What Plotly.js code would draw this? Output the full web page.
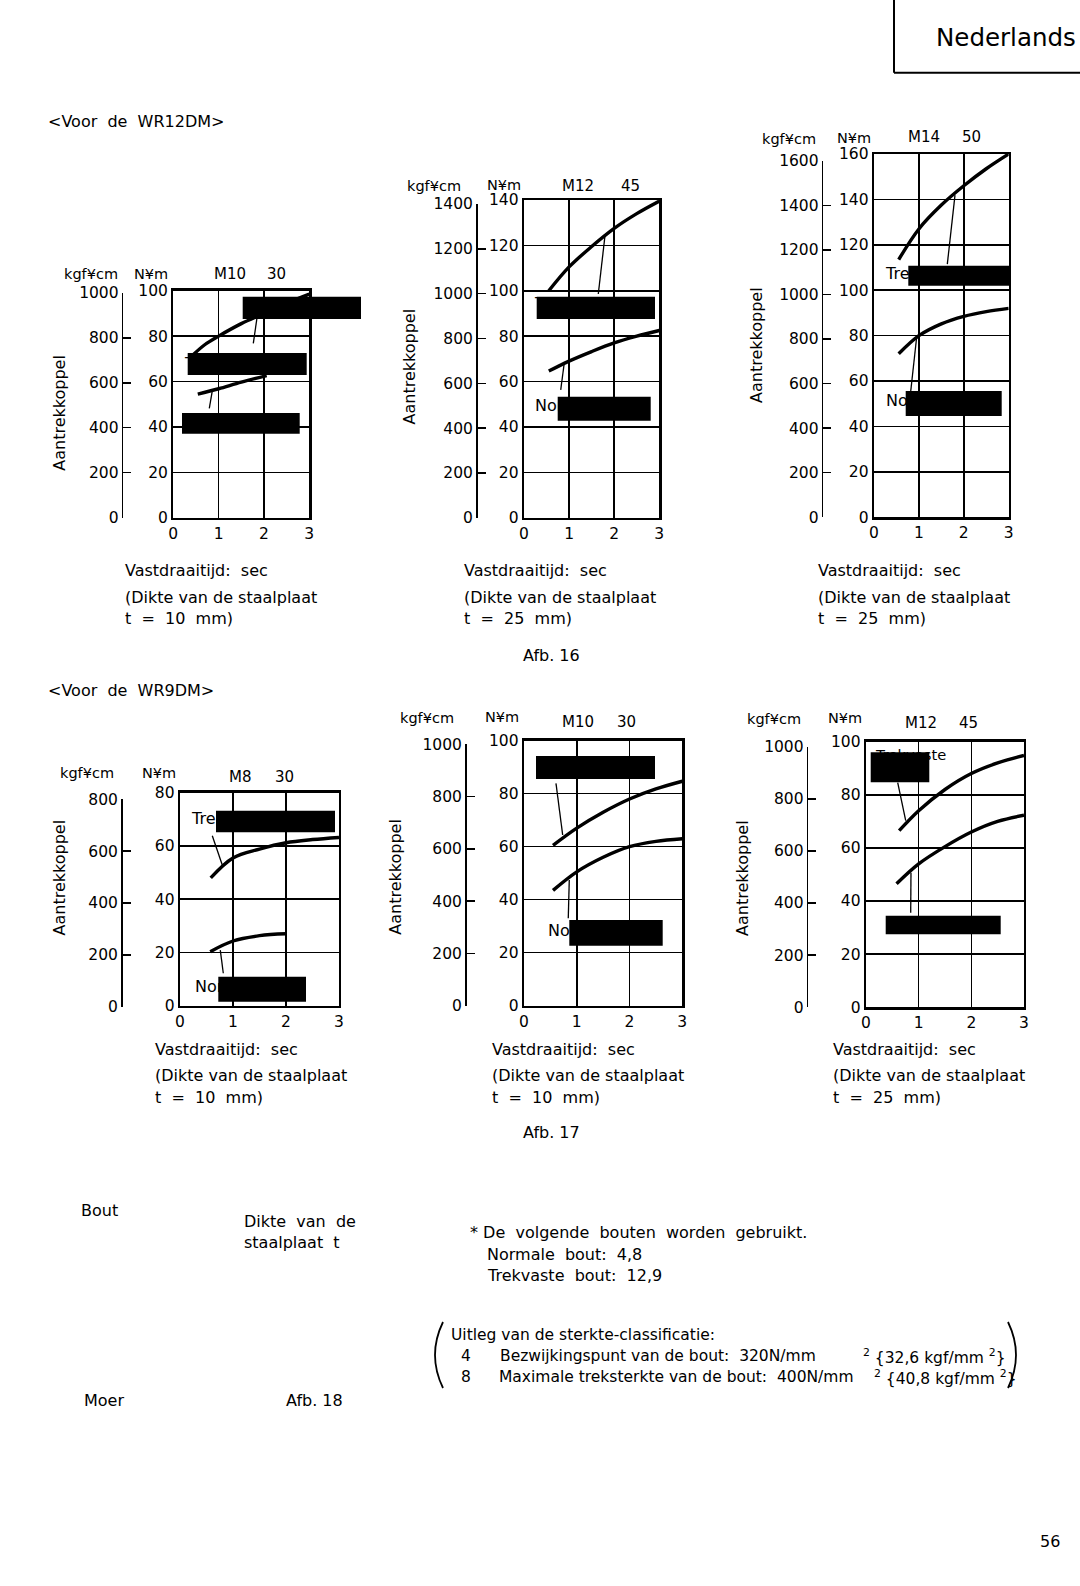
<!DOCTYPE html>
<html><head><meta charset="utf-8">
<script src="https://cdn.plot.ly/plotly-3.0.1.min.js"></script>
<style>html,body{margin:0;padding:0;background:#fff}#chart{width:1080px;height:1586px}</style>
</head><body><div id="chart"></div>
<script>
// ---------------- data ----------------
const boltSize   = ['M10','M12','M14','M8','M10','M12'];
const boltLength = ['30','45','50','30','30','45'];
const plateT     = ['10','25','25','10','10','25'];
const torqueNmMax  = [100,140,160,80,100,100];
const torqueKgfMax = [1000,1400,1600,800,1000,1000];
const timeTicks = [0,1,2,3];

const c1HighX=[0.45,0.7,1.0,1.5,2.0,2.5,3.0], c1HighY=[72,76.3,80,85.5,90,94.5,98.5];
const c1NormX=[0.54,1.0,1.5,2.06],             c1NormY=[54.4,56.8,59.7,62.6];
const c2HighX=[0.55,1.0,1.5,2.0,2.5,3.0],      c2HighY=[100,110.5,119.5,127.5,134,139.5];
const c2NormX=[0.55,1.0,1.5,2.0,2.5,3.0],      c2NormY=[64.6,69,73.2,77,80,82.5];
const c3HighX=[0.55,1,1.5,2,2.5,3],            c3HighY=[113.5,127,137.5,146,153.5,160];
const c3NormX=[0.55,1,1.5,2,2.5,3],            c3NormY=[72,80,85.2,88.5,90.6,92];
const c4HighX=[0.58,1,1.5,2,2.5,3],            c4HighY=[48,55.5,58.8,61.2,62.4,63.2];
const c4NormX=[0.57,1,1.5,2],                  c4NormY=[20.3,24.3,26.3,27];
const c5HighX=[0.55,1,1.5,2,2.5,3],            c5HighY=[60.5,67,73,78,81.8,84.7];
const c5NormX=[0.55,1,1.5,2,2.5,3],            c5NormY=[43.5,50.5,56,60,62,63];
const c6HighX=[0.63,1,1.5,2,2.5,3],            c6HighY=[66.5,74,82,88,92,94.8];
const c6NormX=[0.58,1,1.5,2,2.5,3],            c6NormY=[46.5,54,60.5,66,70,72.3];

const highX=[c1HighX,c2HighX,c3HighX,c4HighX,c5HighX,c6HighX];
const highY=[c1HighY,c2HighY,c3HighY,c4HighY,c5HighY,c6HighY];
const normX=[c1NormX,c2NormX,c3NormX,c4NormX,c5NormX,c6NormX];
const normY=[c1NormY,c2NormY,c3NormY,c4NormY,c5NormY,c6NormY];

// ---------------- layout helpers ----------------
const W = 1080, H = 1586;
const X = p => p / W, Y = p => 1 - p / H;
const FONT = 'DejaVu Sans, sans-serif';

// pixel geometry of each panel
const G = [
 {L:173.3,R:309.3,T:290.7,B:517.7, oPos:121.7, oT:293,   oB:517.5,
  kgf:[61.7,274], nm:[131.7,274], m:[211.7,274.3], len:[265,274.3], aan:[59.2,412.5], cap:[123.3,570.3,597.6,618.9]},
 {L:524,  R:659.3,T:200,  B:517.7, oPos:476,   oT:204,   oB:517.7,
  kgf:[405,186], nm:[485,185], m:[560,186], len:[619.3,186], aan:[409,366.5], cap:[462.1,570.3,597.6,618.9]},
 {L:874,  R:1008.7,T:154, B:517.3, oPos:821.7, oT:160.7, oB:517.3,
  kgf:[760,139.5], nm:[835,138.5], m:[906,137.5], len:[960,137.5], aan:[756,345], cap:[816.1,570.3,597.6,618.9]},
 {L:180,  R:339,  T:792.7,B:1005.7,oPos:121,   oT:799.3, oB:1006.7,
  kgf:[58.3,773], nm:[140,773], m:[227.3,776.5], len:[272.7,776.5], aan:[59,877.5], cap:[152.7,1049.6,1075.9,1097.2]},
 {L:524,  R:682.3,T:740.7,B:1005.7,oPos:465,   oT:744.3, oB:1005.7,
  kgf:[398.3,718], nm:[483.3,716.5], m:[560,722], len:[615,722], aan:[396,876.7], cap:[490.4,1049.6,1075.9,1097.2]},
 {L:866,  R:1024, T:741.7,B:1007.3,oPos:806.7, oT:746.7, oB:1007.3,
  kgf:[745,719], nm:[826,718.5], m:[903.3,723], len:[957.3,723], aan:[743,878], cap:[831.2,1049.6,1075.9,1097.2]}
];

function txt(s, px, py, size, extra) {
  return Object.assign({text:s, x:X(px), y:Y(py), xref:'paper', yref:'paper',
    xanchor:'left', yanchor:'middle', showarrow:false,
    font:{family:FONT, size:size||16, color:'#000'}}, extra||{});
}

const traces = [];
const layout = {
  width:W, height:H, margin:{l:0,r:0,t:0,b:0},
  paper_bgcolor:'#fff', plot_bgcolor:'rgba(0,0,0,0)',
  showlegend:false, shapes:[], annotations:[]
};

G.forEach((g, i) => {
  const n = i + 1, xa = 'x' + (n === 1 ? '' : n), ya = 'y' + (n === 1 ? '' : n);
  const oa = 'y' + (n + 6);
  const lineStyle = {color:'#000', width:3.4, shape:'spline', smoothing:1};
  traces.push({type:'scatter', mode:'lines', x:highX[i], y:highY[i], xaxis:xa, yaxis:ya, line:lineStyle, hoverinfo:'skip'});
  traces.push({type:'scatter', mode:'lines', x:normX[i], y:normY[i], xaxis:xa, yaxis:ya, line:lineStyle, hoverinfo:'skip'});
  traces.push({type:'scatter', mode:'lines', x:[null], y:[null], xaxis:xa, yaxis:oa, hoverinfo:'skip'});

  const common = {showline:true, linecolor:'#000', linewidth:2.3, mirror:true,
    showgrid:true, gridcolor:'#000', gridwidth:1.5, zeroline:false, ticks:'',
    tickfont:{family:FONT, size:15.5, color:'#000'}, fixedrange:true};
  layout['xaxis' + (n === 1 ? '' : n)] = Object.assign({}, common, {
    domain:[X(g.L), X(g.R)], anchor:ya, range:[0,3], tickvals:timeTicks, ticktext:timeTicks.map(String)});
  layout['yaxis' + (n === 1 ? '' : n)] = Object.assign({}, common, {
    domain:[Y(g.B), Y(g.T)], anchor:xa, range:[0, torqueNmMax[i]], dtick:20, tick0:0});
  layout['yaxis' + (n + 6)] = {domain:[Y(g.oB), Y(g.oT)], anchor:'free', position:X(g.oPos), side:'left',
    range:[0, torqueKgfMax[i]], dtick:200, tick0:0, showline:true, linecolor:'#000', linewidth:1.5,
    ticks:'inside', ticklen:8, tickwidth:1.5, tickcolor:'#000', showgrid:false, zeroline:false,
    tickfont:{family:FONT, size:15.5, color:'#000'}, fixedrange:true};

  const A = layout.annotations;
  A.push(txt('kgf¥cm', g.kgf[0], g.kgf[1], 14.5));
  A.push(txt('N¥m', g.nm[0], g.nm[1], 14.5));
  A.push(txt(boltSize[i], g.m[0], g.m[1], 15));
  A.push(txt(boltLength[i], g.len[0], g.len[1], 15));
  A.push(txt('Aantrekkoppel', g.aan[0], g.aan[1], 16, {xanchor:'center', textangle:-90}));
  A.push(txt('Vastdraaitijd:  sec', g.cap[0], g.cap[1]));
  A.push(txt('(Dikte van de staalplaat', g.cap[0], g.cap[2]));
  A.push(txt('t  =  ' + plateT[i] + '  mm)', g.cap[0], g.cap[3]));
});

// partially covered labels
const A = layout.annotations;
[['Tre',182,363],['Tre',532,304],['Nor',533.3,405],['Tre',882.7,273.3],['Nor',884,400.3],
 ['Tre',189,818.3],['Nor',193.3,986.7],['Tre',534,764],['Nor',545.7,930]].forEach(a => A.push(txt(a[0], a[1], a[2], 16)));
A.push(txt('Trekvaste', 873.3, 754, 14.7));

// page texts
A.push(txt('Nederlands', 934, 37.5, 24.5));
A.push(txt('<Voor  de  WR12DM>', 46, 121.4));
A.push(txt('Afb. 16', 521, 655));
A.push(txt('<Voor  de  WR9DM>', 46, 690.6));
A.push(txt('Afb. 17', 520.8, 1132.5));
A.push(txt('Bout', 79, 1210.5));
A.push(txt('Dikte  van  de', 241.7, 1221.5));
A.push(txt('staalplaat  t', 241.7, 1242.7));
A.push(txt('* De  volgende  bouten  worden  gebruikt.', 468.2, 1232.7));
A.push(txt('Normale  bout:  4,8', 485.3, 1254));
A.push(txt('Trekvaste  bout:  12,9', 485.3, 1275));
A.push(txt('Uitleg van de sterkte-classificatie:', 449, 1335, 15.5));
A.push(txt('4', 459, 1356, 15.5));
A.push(txt('Bezwijkingspunt van de bout:  320N/mm', 497.5, 1356, 15.5));
A.push(txt('<sup>2</sup> {32,6 kgf/mm <sup>2</sup>}', 860.5, 1356, 15.5));
A.push(txt('8', 459, 1377, 15.5));
A.push(txt('Maximale treksterkte van de bout:  400N/mm', 496.5, 1377, 15.5));
A.push(txt('<sup>2</sup> {40,8 kgf/mm <sup>2</sup>}', 871.7, 1377, 15.5));
A.push(txt('Moer', 82, 1400.5));
A.push(txt('Afb. 18', 284, 1400.5));
A.push(txt('56', 1037.5, 1541));

// shapes: redaction boxes (pixel rectangles)
const S = layout.shapes;
[[242.7,296.7,361,319],[187.7,353,306.7,375],[182,413,299.7,433.7],
 [536.7,296.7,655,319],[557.7,396.7,650.7,420.7],
 [908.3,265.7,1009.3,285.7],[905.7,391,1001.7,416],
 [216,810.7,335,832.3],[218.3,976.7,306,1001.7],
 [536,756,655,779],[569.3,920,662.7,945.7],
 [870.7,752.3,929.3,782.3],[885.7,915.7,1000.7,934.3]].forEach(b => S.push({
  type:'rect', xref:'paper', yref:'paper', x0:X(b[0]), x1:X(b[2]), y0:Y(b[3]), y1:Y(b[1]),
  fillcolor:'#000', line:{width:0}, layer:'above'}));

// leader lines (axis coordinates of each panel)
const leaders = [
 [1,1.853,89.0,1.765,76.8],[1,0.86,55.9,0.794,48.2],
 [2,1.796,124.3,1.647,98.6],[2,0.887,67.3,0.814,56.3],
 [3,1.804,141.9,1.633,111.5],[3,0.951,79.5,0.817,55.3],
 [4,0.609,63.85,0.798,52.85],[4,0.76,20.9,0.817,12.2],
 [5,0.606,83.9,0.733,64.4],[5,0.858,47.4,0.839,33.0],
 [6,0.602,84.6,0.754,70.3],[6,0.854,50.7,0.849,35.6]];
leaders.forEach(l => S.push({type:'line', xref:'x'+(l[0]===1?'':l[0]), yref:'y'+(l[0]===1?'':l[0]),
  x0:l[1], y0:l[2], x1:l[3], y1:l[4], line:{color:'#000', width:1.3}}));

// Nederlands frame
S.push({type:'line', xref:'paper', yref:'paper', x0:X(894), x1:X(894), y0:Y(0), y1:Y(72.7), line:{color:'#000', width:2}});
S.push({type:'line', xref:'paper', yref:'paper', x0:X(894), x1:X(1080), y0:Y(72.7), y1:Y(72.7), line:{color:'#000', width:2}});
// large parentheses
S.push({type:'path', xref:'paper', yref:'paper', line:{color:'#000', width:1.8},
  path:`M ${X(443)},${Y(1322)} Q ${X(427)},${Y(1355)} ${X(443)},${Y(1388)}`});
S.push({type:'path', xref:'paper', yref:'paper', line:{color:'#000', width:1.8},
  path:`M ${X(1008)},${Y(1322)} Q ${X(1024)},${Y(1355)} ${X(1008)},${Y(1388)}`});

Plotly.newPlot('chart', traces, layout, {staticPlot:true, displayModeBar:false});
</script></body></html>
